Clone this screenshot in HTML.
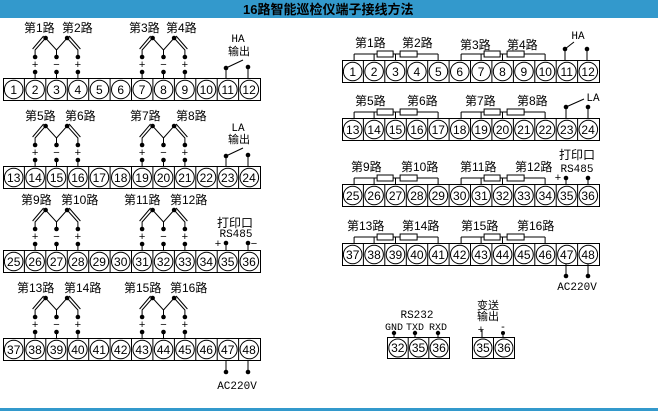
<!DOCTYPE html>
<html><head><meta charset="utf-8"><style>
html,body{margin:0;padding:0;background:#fff;}
svg{display:block;}
text{font-family:"Liberation Sans","Noto Sans CJK SC",sans-serif;fill:#000;}
.n{font-size:12px;text-anchor:middle;}
.l{font-size:12px;}
.s{font-size:11px;text-anchor:middle;}
.m{font-family:"Liberation Mono","Noto Sans CJK SC",monospace;font-size:11px;text-anchor:middle;}
</style></head><body>
<svg width="658" height="411" viewBox="0 0 658 411" xmlns="http://www.w3.org/2000/svg">
<defs>
<g id="s" fill="none" stroke="#000" stroke-width="1">
<rect x="0.5" y="0.5" width="257" height="22"/>
<path d="M21.4,0V22M42.8,0V22M64.3,0V22M85.7,0V22M107.1,0V22M128.5,0V22M149.9,0V22M171.4,0V22M192.8,0V22M214.2,0V22M235.6,0V22"/>
<circle cx="10.7" cy="11.5" r="9.3"/><circle cx="32.1" cy="11.5" r="9.3"/><circle cx="53.5" cy="11.5" r="9.3"/><circle cx="74.9" cy="11.5" r="9.3"/><circle cx="96.4" cy="11.5" r="9.3"/><circle cx="117.8" cy="11.5" r="9.3"/><circle cx="139.2" cy="11.5" r="9.3"/><circle cx="160.6" cy="11.5" r="9.3"/><circle cx="182" cy="11.5" r="9.3"/><circle cx="203.5" cy="11.5" r="9.3"/><circle cx="224.9" cy="11.5" r="9.3"/><circle cx="246.3" cy="11.5" r="9.3"/>
</g>
<g id="tc">
<path fill="none" stroke="#000" d="M0,-6V0M21.4,-6V0M42.8,-6V0M0,-21V-28L10.5,-40L21.4,-28L32,-40L42.8,-28V-21M21.4,-28V-21M-2.5,-29L8.5,-42M45.3,-29L34,-42"/>
<g fill="#000"><circle cx="0" cy="-6" r="2.3"/><circle cx="21.4" cy="-6" r="2.3"/><circle cx="42.8" cy="-6" r="2.3"/><circle cx="0" cy="-21" r="2.3"/><circle cx="21.4" cy="-21" r="2.3"/><circle cx="42.8" cy="-21" r="2.3"/><circle cx="10.5" cy="-40" r="2.3"/><circle cx="32" cy="-40" r="2.3"/></g>
<text class="s" x="0" y="-10">+</text><text class="s" x="21.4" y="-10">−</text><text class="s" x="42.8" y="-10">+</text>
</g>
<g id="rw" fill="none" stroke="#000">
<path d="M-20,-6H64M-20,-6V0M0,-6V0M21.4,-6V0M64,-6V0"/>
<rect x="3" y="-9" width="16" height="6" fill="#fff"/><rect x="26" y="-9" width="17" height="6" fill="#fff"/>
</g>
</defs>
<rect x="0" y="0" width="658" height="18" fill="#3399cc"/>
<text x="243" y="14" style="font-size:13px;font-weight:bold">16路智能巡检仪端子接线方法</text>
<rect x="0" y="408" width="658" height="3" fill="#3399cc"/>

<!-- LEFT -->
<use href="#s" x="3" y="78"/><use href="#s" x="3" y="166"/><use href="#s" x="3" y="250"/><use href="#s" x="3" y="338"/>
<text class="n" y="94"><tspan x="13.7">1</tspan><tspan x="35.1">2</tspan><tspan x="56.5">3</tspan><tspan x="77.9">4</tspan><tspan x="99.3">5</tspan><tspan x="120.7">6</tspan><tspan x="142.1">7</tspan><tspan x="163.5">8</tspan><tspan x="184.9">9</tspan><tspan x="206.3">10</tspan><tspan x="227.7">11</tspan><tspan x="249.1">12</tspan></text>
<text class="n" y="182"><tspan x="13.7">13</tspan><tspan x="35.1">14</tspan><tspan x="56.5">15</tspan><tspan x="77.9">16</tspan><tspan x="99.3">17</tspan><tspan x="120.7">18</tspan><tspan x="142.1">19</tspan><tspan x="163.5">20</tspan><tspan x="184.9">21</tspan><tspan x="206.3">22</tspan><tspan x="227.7">23</tspan><tspan x="249.1">24</tspan></text>
<text class="n" y="266"><tspan x="13.7">25</tspan><tspan x="35.1">26</tspan><tspan x="56.5">27</tspan><tspan x="77.9">28</tspan><tspan x="99.3">29</tspan><tspan x="120.7">30</tspan><tspan x="142.1">31</tspan><tspan x="163.5">32</tspan><tspan x="184.9">33</tspan><tspan x="206.3">34</tspan><tspan x="227.7">35</tspan><tspan x="249.1">36</tspan></text>
<text class="n" y="354"><tspan x="13.7">37</tspan><tspan x="35.1">38</tspan><tspan x="56.5">39</tspan><tspan x="77.9">40</tspan><tspan x="99.3">41</tspan><tspan x="120.7">42</tspan><tspan x="142.1">43</tspan><tspan x="163.5">44</tspan><tspan x="184.9">45</tspan><tspan x="206.3">46</tspan><tspan x="227.7">47</tspan><tspan x="249.1">48</tspan></text>

<use href="#tc" x="35.1" y="78"/><use href="#tc" x="142.1" y="78"/>
<use href="#tc" x="35.1" y="166"/><use href="#tc" x="142.1" y="166"/>
<use href="#tc" x="35.1" y="250"/><use href="#tc" x="142.1" y="250"/>
<use href="#tc" x="35.1" y="338"/><use href="#tc" x="142.1" y="338"/>

<g class="l">
<text x="24" y="32">第1路</text><text x="62" y="32">第2路</text><text x="129" y="32">第3路</text><text x="166" y="32">第4路</text>
<text x="25" y="120">第5路</text><text x="65" y="120">第6路</text><text x="130" y="120">第7路</text><text x="176" y="120">第8路</text>
<text x="21" y="204">第9路</text><text x="61" y="204">第10路</text><text x="124" y="204">第11路</text><text x="170" y="204">第12路</text>
<text x="17" y="292">第13路</text><text x="64" y="292">第14路</text><text x="124" y="292">第15路</text><text x="170" y="292">第16路</text>
</g>
<g stroke="#000" fill="none"><path d="M226,68V78M248,67V78M226,68L243,60M226,156V166M248,155V166M226,156L243,148"/></g>
<g fill="#000"><circle cx="226" cy="68" r="2.3"/><circle cx="248" cy="67" r="2.3"/><circle cx="226" cy="156" r="2.3"/><circle cx="248" cy="155" r="2.3"/></g>
<text class="m" x="238" y="42">HA</text><text class="s" x="239" y="55">输出</text>
<text class="m" x="238" y="131">LA</text><text class="s" x="239" y="143">输出</text>
<text class="s" x="235" y="227" style="font-size:12px">打印口</text><text class="m" x="236" y="237">RS485</text>
<g stroke="#000"><path d="M226,243V250M248,243V250"/></g>
<g fill="#000"><circle cx="226" cy="243" r="2.3"/><circle cx="248" cy="243" r="2.3"/></g>
<text class="s" x="218" y="247">+</text><text class="s" x="254" y="247">−</text>
<g stroke="#000"><path d="M226,360V372M248,360V372"/></g>
<g fill="#000"><circle cx="226" cy="372" r="2.3"/><circle cx="248" cy="372" r="2.3"/></g>
<text class="m" x="237" y="389">AC220V</text>

<!-- RIGHT -->
<use href="#s" x="342" y="60"/><use href="#s" x="342" y="118"/><use href="#s" x="342" y="184"/><use href="#s" x="342" y="243"/>
<text class="n" y="76"><tspan x="352.7">1</tspan><tspan x="374.1">2</tspan><tspan x="395.5">3</tspan><tspan x="416.9">4</tspan><tspan x="438.3">5</tspan><tspan x="459.7">6</tspan><tspan x="481.1">7</tspan><tspan x="502.5">8</tspan><tspan x="523.9">9</tspan><tspan x="545.3">10</tspan><tspan x="566.7">11</tspan><tspan x="588.1">12</tspan></text>
<text class="n" y="134"><tspan x="352.7">13</tspan><tspan x="374.1">14</tspan><tspan x="395.5">15</tspan><tspan x="416.9">16</tspan><tspan x="438.3">17</tspan><tspan x="459.7">18</tspan><tspan x="481.1">19</tspan><tspan x="502.5">20</tspan><tspan x="523.9">21</tspan><tspan x="545.3">22</tspan><tspan x="566.7">23</tspan><tspan x="588.1">24</tspan></text>
<text class="n" y="200"><tspan x="352.7">25</tspan><tspan x="374.1">26</tspan><tspan x="395.5">27</tspan><tspan x="416.9">28</tspan><tspan x="438.3">29</tspan><tspan x="459.7">30</tspan><tspan x="481.1">31</tspan><tspan x="502.5">32</tspan><tspan x="523.9">33</tspan><tspan x="545.3">34</tspan><tspan x="566.7">35</tspan><tspan x="588.1">36</tspan></text>
<text class="n" y="259"><tspan x="352.7">37</tspan><tspan x="374.1">38</tspan><tspan x="395.5">39</tspan><tspan x="416.9">40</tspan><tspan x="438.3">41</tspan><tspan x="459.7">42</tspan><tspan x="481.1">43</tspan><tspan x="502.5">44</tspan><tspan x="523.9">45</tspan><tspan x="545.3">46</tspan><tspan x="566.7">47</tspan><tspan x="588.1">48</tspan></text>

<use href="#rw" x="374.1" y="60"/><use href="#rw" x="481.1" y="60"/>
<use href="#rw" x="374.1" y="118"/><use href="#rw" x="481.1" y="118"/>
<use href="#rw" x="374.1" y="184"/><use href="#rw" x="481.1" y="184"/>
<use href="#rw" x="374.1" y="243"/><use href="#rw" x="481.1" y="243"/>

<g class="l">
<text x="355" y="47">第1路</text><text x="402" y="47">第2路</text><text x="460" y="49">第3路</text><text x="507" y="49">第4路</text>
<text x="355" y="105">第5路</text><text x="407" y="105">第6路</text><text x="465" y="105">第7路</text><text x="517" y="105">第8路</text>
<text x="351" y="171">第9路</text><text x="401" y="171">第10路</text><text x="460" y="171">第11路</text><text x="515" y="171">第12路</text>
<text x="347" y="230">第13路</text><text x="402" y="230">第14路</text><text x="461" y="230">第15路</text><text x="517" y="230">第16路</text>
</g>
<g stroke="#000" fill="none"><path d="M565,49V60M587,49V60M565,49L574,42M566,107V118M588,107V118M566,107L584,99"/></g>
<g fill="#000"><circle cx="565" cy="49" r="2.3"/><circle cx="587" cy="49" r="2.3"/><circle cx="566" cy="107" r="2.3"/><circle cx="588" cy="107" r="2.3"/></g>
<text class="m" x="578" y="39">HA</text><text class="m" x="593" y="101">LA</text>
<text class="s" x="577" y="159" style="font-size:12px">打印口</text><text class="m" x="577" y="172">RS485</text>
<g stroke="#000"><path d="M566,178V184M588,178V184M566,264V276M588,264V276"/></g>
<g fill="#000"><circle cx="566" cy="178" r="2.3"/><circle cx="588" cy="178" r="2.3"/><circle cx="566" cy="276" r="2.3"/><circle cx="588" cy="276" r="2.3"/></g>
<text class="s" x="558" y="181">+</text>
<text class="m" x="577" y="290">AC220V</text>

<!-- RS232 -->
<g fill="none" stroke="#000"><rect x="387.5" y="337.5" width="62" height="21"/><path d="M408.2,337V358M428.8,337V358"/>
<circle cx="397.8" cy="348" r="9"/><circle cx="418.5" cy="348" r="9"/><circle cx="439.1" cy="348" r="9"/>
<rect x="472.5" y="337.5" width="42" height="21"/><path d="M493.5,337V358"/>
<circle cx="483" cy="348" r="9"/><circle cx="504" cy="348" r="9"/>
<path d="M394,333V337M415,333V337M438,333V337M482,330V337M503,333V337"/></g>
<g fill="#000"><circle cx="394" cy="333" r="2.2"/><circle cx="415" cy="333" r="2.2"/><circle cx="438" cy="333" r="2.2"/><circle cx="503" cy="333" r="2"/></g>
<text class="n" y="352"><tspan x="397.8">32</tspan><tspan x="418.5">35</tspan><tspan x="439.1">36</tspan><tspan x="483">35</tspan><tspan x="504">36</tspan></text>
<text class="m" x="417" y="318">RS232</text>
<text class="m" x="394" y="330" style="font-size:10px">GND</text><text class="m" x="415" y="330" style="font-size:10px">TXD</text><text class="m" x="438" y="330" style="font-size:10px">RXD</text>
<text class="s" x="488" y="309">变送</text><text class="s" x="488" y="320">输出</text>
<text class="s" x="481" y="333">+</text><text class="s" x="503" y="330">-</text>
</svg>
</body></html>
